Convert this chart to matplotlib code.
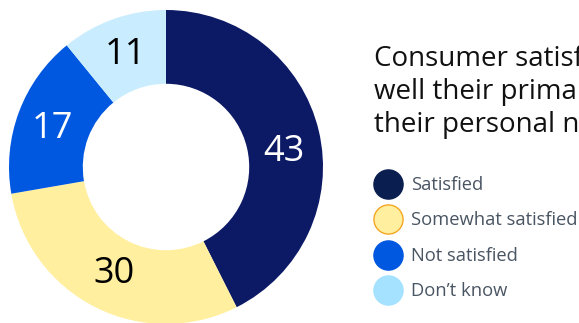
import matplotlib
matplotlib.use("Agg")
import matplotlib.pyplot as plt
import numpy as np

categories = ["Satisfied", "Somewhat satisfied", "Not satisfied", "Don\u2019t know"]
values = [43, 30, 17, 11]
wedge_colors = ["#0c1a66", "#ffef9f", "#0057e0", "#c9edfe"]
label_colors = ["white", "black", "white", "black"]
legend_colors = ["#0a1f4f", "#ffef9f", "#0057e0", "#a4e2ff"]
legend_edges = ["#0a1f4f", "#f5a623", "#0057e0", "#a4e2ff"]
title_lines = ["Consumer satisfaction with how", "well their primary bank meets", "their personal needs"]

W, H = 579, 323
fig = plt.figure(figsize=(W / 100, H / 100), dpi=100)
fig.patch.set_facecolor("white")

cx, cy, R = 166, 167, 157
ax = fig.add_axes([(cx - R) / W, (H - cy - R) / H, 2 * R / W, 2 * R / H])
wedges, texts = ax.pie(
    values, colors=wedge_colors, startangle=90, counterclock=False,
    radius=1.0, wedgeprops=dict(width=0.47, linewidth=0))
angle_shift = [-6, 1, 2, 0]
for w, v, c, sh in zip(wedges, values, label_colors, angle_shift):
    ang = np.deg2rad((w.theta1 + w.theta2) / 2 + sh)
    r = 0.76
    ax.text(r * np.cos(ang), r * np.sin(ang), str(v), color=c, fontsize=26,
            fontfamily="Open Sans", ha="center", va="center")
ax.set_xlim(-1, 1)
ax.set_ylim(-1, 1)
ax.set_aspect("equal")
ax.axis("off")

# title
for i, line in enumerate(title_lines):
    fig.text(374 / W, 1 - (66 + i * 33) / H, line, fontsize=20, fontfamily="Open Sans",
             color="#111111", va="baseline", ha="left")

# legend
lax = fig.add_axes([0, 0, 1, 1])
lax.set_xlim(0, W)
lax.set_ylim(H, 0)
lax.axis("off")
for i, (cat, fc, ec) in enumerate(zip(categories, legend_colors, legend_edges)):
    y = 184 + i * 35.3
    lax.scatter([388], [y], s=440, facecolor=fc, edgecolor=ec, linewidth=1)
    lax.text(411, y + 1, cat, fontsize=13.2, fontfamily="Open Sans", color="#4a5563",
             va="center", ha="left")

fig.savefig("out.png", dpi=100)
